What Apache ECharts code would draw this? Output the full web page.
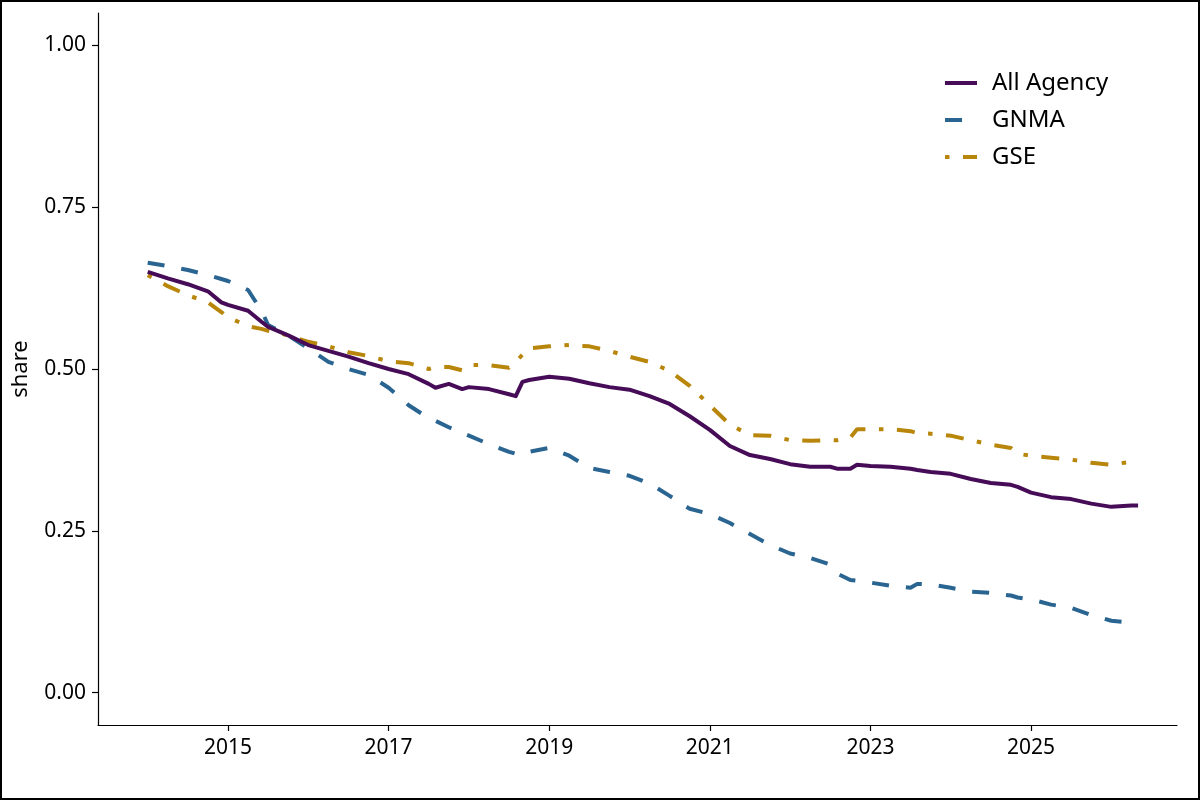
<!DOCTYPE html>
<html>
<head>
<meta charset="utf-8">
<script src="https://cdn.jsdelivr.net/npm/echarts@6/dist/echarts.min.js"></script>
<style>
  html, body { margin: 0; padding: 0; background: #fff; }
  #main { width: 1200px; height: 800px; position: relative; }
  #frame { position: absolute; left: 0; top: 0; width: 1200px; height: 800px; box-sizing: border-box; border: 2px solid #000; pointer-events: none; }
</style>
</head>
<body>
<div id="main"></div>
<div id="frame"></div>
<script>
// months (not evenly spaced: extra points where lines jump)
const months = [
  '2014-01', '2014-04', '2014-07', '2014-10', '2014-12', '2015-01', '2015-04', '2015-06',
  '2015-07', '2015-10', '2016-01', '2016-04', '2016-07', '2016-10', '2017-01', '2017-04',
  '2017-07', '2017-08', '2017-10', '2017-12', '2018-01', '2018-04', '2018-07', '2018-08',
  '2018-09', '2018-10', '2019-01', '2019-04', '2019-07', '2019-10', '2020-01', '2020-04',
  '2020-07', '2020-10', '2021-01', '2021-04', '2021-07', '2021-10', '2022-01', '2022-04',
  '2022-07', '2022-08', '2022-10', '2022-11', '2023-01', '2023-04', '2023-07', '2023-08',
  '2023-10', '2024-01', '2024-04', '2024-07', '2024-10', '2024-11', '2025-01', '2025-04',
  '2025-07', '2025-10', '2026-01', '2026-04', '2026-05'
]

const allAgency = [
  0.650, 0.640, 0.631, 0.620, 0.603, 0.599, 0.590, 0.573,
  0.565, 0.552, 0.537, 0.528, 0.519, 0.509, 0.500, 0.492,
  0.477, 0.471, 0.477, 0.469, 0.472, 0.469, 0.461, 0.458,
  0.480, 0.483, 0.488, 0.485, 0.478, 0.472, 0.468, 0.458,
  0.446, 0.427, 0.406, 0.381, 0.367, 0.361, 0.353, 0.349,
  0.349, 0.346, 0.346, 0.352, 0.350, 0.349, 0.346, 0.344,
  0.341, 0.338, 0.330, 0.324, 0.321, 0.318, 0.309, 0.302,
  0.299, 0.292, 0.287, 0.289, 0.289
]

const gnma = [
  0.664, 0.659, 0.653, 0.645, 0.639, 0.636, 0.622, 0.590,
  0.568, 0.552, 0.532, 0.511, 0.500, 0.491, 0.471, 0.444,
  0.424, 0.420, 0.410, 0.401, 0.397, 0.384, 0.372, 0.369,
  0.367, 0.372, 0.378, 0.366, 0.347, 0.341, 0.335, 0.323,
  0.304, 0.284, 0.276, 0.262, 0.245, 0.228, 0.215, 0.208,
  0.198, 0.184, 0.174, 0.173, 0.170, 0.165, 0.162, 0.168,
  0.167, 0.162, 0.156, 0.154, 0.150, 0.147, 0.144, 0.136,
  0.131, 0.120, 0.111, 0.108, 0.108
]

const gse = [
  0.645, 0.628, 0.614, 0.603, 0.588, 0.580, 0.566, 0.562,
  0.559, 0.552, 0.542, 0.535, 0.526, 0.520, 0.512, 0.509,
  0.500, 0.503, 0.503, 0.498, 0.506, 0.506, 0.502, 0.511,
  0.522, 0.532, 0.535, 0.537, 0.535, 0.528, 0.519, 0.511,
  0.497, 0.474, 0.444, 0.414, 0.398, 0.397, 0.390, 0.389,
  0.390, 0.390, 0.394, 0.407, 0.407, 0.407, 0.404, 0.401,
  0.400, 0.397, 0.390, 0.383, 0.378, 0.369, 0.366, 0.363,
  0.360, 0.355, 0.352, 0.357, null
]

const yearTicks = [2015, 2017, 2019, 2021, 2023, 2025]
const shareTicks = [0, 0.25, 0.5, 0.75, 1]

// '2014-04' -> 2014.25
function toYear(m) {
  const [y, mo] = m.split('-').map(Number)
  return y + (mo - 1) / 12
}
function pairs(vals) {
  return months.map((m, i) => [toYear(m), vals[i]])
}

const FONT = 'Noto Sans'
const colors = ['#470c57', '#2a6592', '#b8860b']

let myChart = echarts.init(document.getElementById('main'))

let option = {
  animation: false,
  backgroundColor: '#fff',
  textStyle: { fontFamily: FONT },
  grid: { left: 98, right: 23, top: 13, bottom: 75 },
  legend: {
    orient: 'vertical',
    left: 938,
    top: 66,
    itemWidth: 32,
    itemHeight: 14,
    itemGap: 13,
    itemStyle: { opacity: 0 },
    lineStyle: { width: 4 },
    textStyle: { fontFamily: FONT, fontSize: 24, color: '#000', padding: [0, 0, 0, 10] },
    data: ['All Agency', 'GNMA', 'GSE']
  },
  xAxis: {
    type: 'value',
    min: 2013.381,
    max: 2026.818,
    splitLine: { show: false },
    axisLine: { onZero: false, lineStyle: { color: '#000', width: 1.2 } },
    axisTick: { customValues: yearTicks, length: 6, lineStyle: { color: '#000', width: 1.2 } },
    axisLabel: {
      customValues: yearTicks,
      margin: 13,
      fontSize: 21,
      color: '#000',
      fontFamily: FONT,
      formatter: v => String(Math.round(v))
    }
  },
  yAxis: {
    type: 'value',
    min: -0.05,
    max: 1.05,
    name: 'share',
    nameLocation: 'middle',
    nameGap: 66,
    nameTextStyle: { fontSize: 22, color: '#000', fontFamily: FONT },
    splitLine: { show: false },
    axisLine: { show: true, onZero: false, lineStyle: { color: '#000', width: 1.2 } },
    axisTick: { show: true, customValues: shareTicks, length: 6, lineStyle: { color: '#000', width: 1.2 } },
    axisLabel: {
      customValues: shareTicks,
      margin: 12,
      fontSize: 21,
      color: '#000',
      fontFamily: FONT,
      formatter: v => v.toFixed(2)
    }
  },
  series: [
    {
      name: 'All Agency',
      type: 'line',
      symbol: 'none',
      color: colors[0],
      lineStyle: { width: 4, type: 'solid', color: colors[0], join: 'round' },
      data: pairs(allAgency),
      z: 3
    },
    {
      name: 'GNMA',
      type: 'line',
      symbol: 'none',
      color: colors[1],
      lineStyle: { width: 4, type: [17, 17], color: colors[1], cap: 'butt' },
      data: pairs(gnma),
      z: 2
    },
    {
      name: 'GSE',
      type: 'line',
      symbol: 'none',
      color: colors[2],
      connectNulls: false,
      lineStyle: { width: 4, type: [4.5, 13.5, 18, 13.5], color: colors[2], cap: 'butt' },
      data: pairs(gse),
      z: 1
    }
  ]
}

myChart.setOption(option)
</script>
</body>
</html>
